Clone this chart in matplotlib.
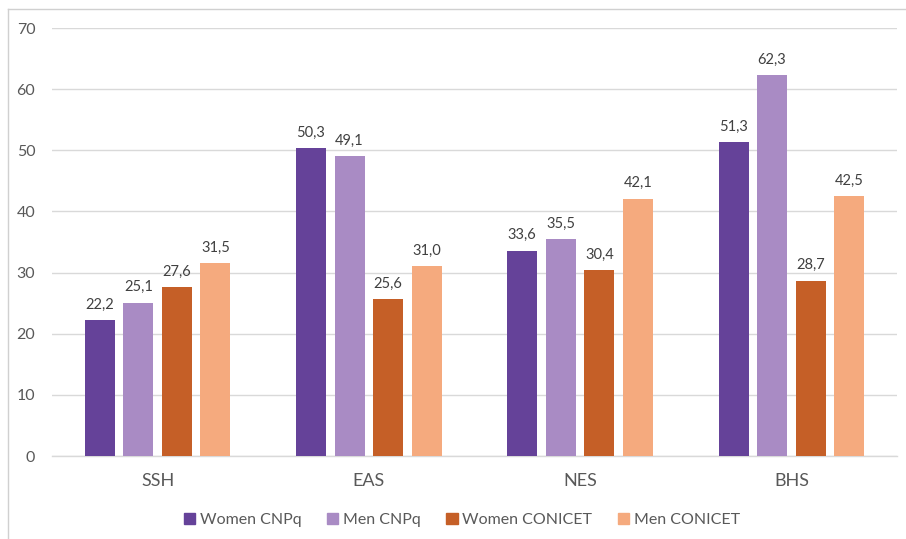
import matplotlib
matplotlib.use("Agg")
import matplotlib.pyplot as plt
from matplotlib.lines import Line2D
import numpy as np

categories = ["SSH", "EAS", "NES", "BHS"]
series_names = ["Women CNPq", "Men CNPq", "Women CONICET", "Men CONICET"]
women_cnpq = [22.2, 50.3, 33.6, 51.3]
men_cnpq = [25.1, 49.1, 35.5, 62.3]
women_conicet = [27.6, 25.6, 30.4, 28.7]
men_conicet = [31.5, 31.0, 42.1, 42.5]
y_ticks = [0, 10, 20, 30, 40, 50, 60, 70]

colors = ["#654299", "#A98BC4", "#C55F27", "#F5AA7E"]
text_color = "#595959"

plt.rcParams["font.family"] = ["Lato", "DejaVu Sans"]

fig = plt.figure(figsize=(9.06, 5.39), dpi=100)
ax = fig.add_axes([52 / 906, 1 - 456 / 539, (897 - 52) / 906, (456 - 28) / 539])

x = np.arange(len(categories))
width = 0.142
step = 0.1825
series = [women_cnpq, men_cnpq, women_conicet, men_conicet]
for i, (name, vals, c) in enumerate(zip(series_names, series, colors)):
    pos = x + (i - 1.5) * step
    ax.bar(pos, vals, width=width, color=c, label=name, zorder=3)
    for px, v in zip(pos, vals):
        ax.annotate(f"{v:.1f}".replace(".", ","), (px, v), xytext=(0, 6),
                    textcoords="offset points", ha="center", va="bottom",
                    fontsize=10.5, color="#404040")

ax.set_xlim(-0.5, len(categories) - 0.5)
ax.set_ylim(0, 70)
ax.set_yticks(y_ticks)
ax.set_yticklabels([str(t) for t in y_ticks])
ax.set_xticks(x)
ax.set_xticklabels(categories)
ax.grid(axis="y", color="#D9D9D9", linewidth=1, zorder=0)
for s in ["top", "right", "left"]:
    ax.spines[s].set_visible(False)
ax.spines["bottom"].set_color("#D9D9D9")
ax.spines["bottom"].set_linewidth(1)
ax.tick_params(axis="y", length=0, pad=12, labelsize=11.5, labelcolor=text_color)
ax.tick_params(axis="x", length=0, pad=12, labelsize=13, labelcolor=text_color)

handles = [plt.Rectangle((0, 0), 1, 1, color=c) for c in colors]
fig.legend(handles, series_names, loc="center", bbox_to_anchor=(0.51, 1 - 520 / 539),
           ncol=4, frameon=False, fontsize=11.5, handlelength=0.7, handleheight=0.7,
           handletextpad=0.3, columnspacing=1.6, labelcolor=text_color)

# outer frame of the chart area
fig.add_artist(Line2D([8 / 906, 1], [1 - 9 / 539, 1 - 9 / 539], transform=fig.transFigure,
                      color="#D0D0D0", linewidth=1))
fig.add_artist(Line2D([8 / 906, 8 / 906], [0, 1 - 9 / 539], transform=fig.transFigure,
                      color="#D0D0D0", linewidth=1))

fig.savefig("out.png", dpi=100)
